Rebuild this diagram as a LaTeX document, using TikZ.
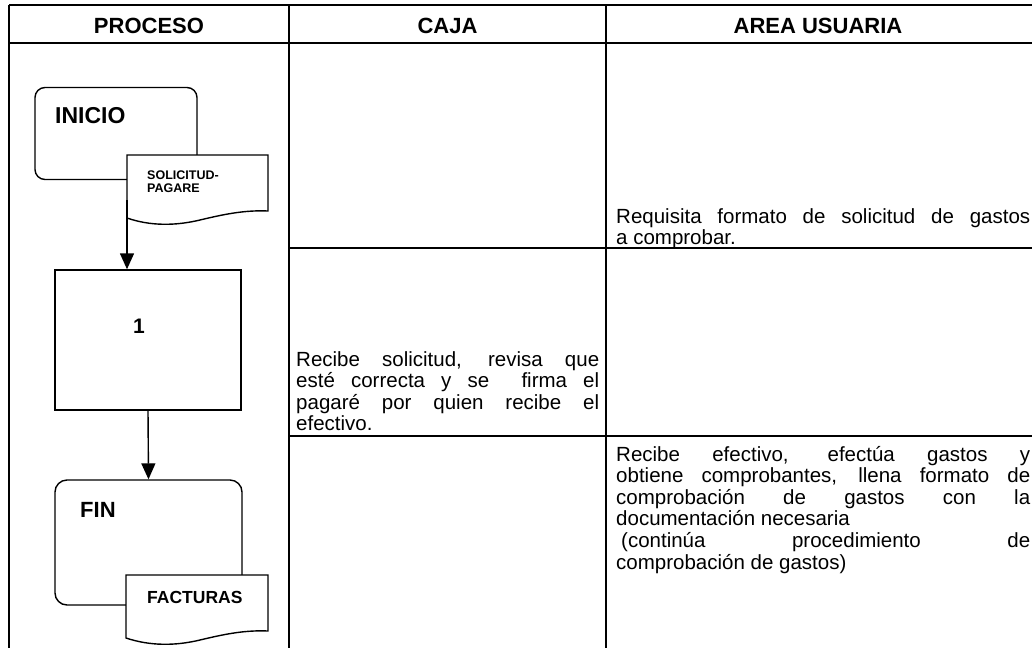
\documentclass[tikz,border=0pt]{standalone}
\usepackage{fontspec}
\setmainfont{Liberation Sans}
\usetikzlibrary{arrows.meta}
\begin{document}
\begin{tikzpicture}[x=1pt,y=-1pt,
  tline/.style={line width=2.2pt},
  shp/.style={draw, line width=1.4pt, fill=white},
  boxshape/.style={draw, line width=1.4pt, fill=white, inner sep=0pt},
  arr/.style={line width=1.4pt, -{Triangle[length=16pt,width=14pt]}},
  hdr/.style={font=\fontsize{22}{26}\selectfont\bfseries, anchor=base, inner sep=0pt},
  lbl/.style={anchor=base west, inner sep=0pt},
  body/.style={font=\fontsize{20.5}{21.6}\selectfont, anchor=base west, inner sep=0pt},
]
\useasboundingbox (0,0) rectangle (1032,648);
% table
\draw[line width=2.6pt] (9,5) -- (1032,5);
\draw[tline] (9,43) -- (1032,43);
\draw[tline] (9,5) -- (9,648);
\draw[tline] (289,5) -- (289,648);
\draw[tline] (606,5) -- (606,648);
\draw[tline] (289,248) -- (1032,248);
\draw[tline] (289,436) -- (1032,436);
% headers
\node[hdr] (hproc) at (149,33) {PROCESO};
\node[hdr] (hcaja) at (447.5,33) {CAJA};
\node[hdr] (harea) at (818,33) {AREA USUARIA};
% flow shapes
\node[boxshape, rounded corners=10pt, minimum width=162pt, minimum height=92pt] (inicio) at (116,133.5) {};
\draw[shp] (127,155) -- (268,155) -- (268,211) .. controls (245,210) and (225,214) .. (200,220) .. controls (175,226) and (150,226) .. (127,218) -- cycle;
\coordinate (d1b) at (127,200);
\node[boxshape, minimum width=186pt, minimum height=140pt] (box1) at (148,340) {};
\node[boxshape, rounded corners=12pt, minimum width=187pt, minimum height=125pt] (fin) at (148.5,542.5) {};
\draw[shp] (126,575) -- (268,575) -- (268,631) .. controls (245,630) and (225,634) .. (200,640) .. controls (175,646) and (150,646) .. (126,638) -- cycle;
% labels
\node[lbl, font=\fontsize{23}{26}\selectfont\bfseries] (tini) at (55,123) {INICIO};
\node[lbl, font=\fontsize{12.5}{12.5}\selectfont\bfseries] (tsol) at (147,179.5) {\parbox[t]{100pt}{SOLICITUD-\\PAGARE}};
\node[font=\fontsize{21}{24}\selectfont\bfseries, anchor=base, inner sep=0pt] (tone) at (139,333) {1};
\node[lbl, font=\fontsize{22}{26}\selectfont\bfseries] (tfin) at (80,517) {FIN};
\node[lbl, font=\fontsize{17.5}{20}\selectfont\bfseries] (tfac) at (147,603) {FACTURAS};
% connectors
\draw[arr] (d1b) -- (d1b |- box1.north);
\draw[arr] (box1.south) -- (fin.north);
% body texts
\node[body] (t1) at (616,223) {\parbox[t]{414pt}{\makebox[414pt][s]{Requisita formato de solicitud de gastos}\\a comprobar.}};
\node[body] (t2) at (296,366) {\parbox[t]{303pt}{\makebox[303pt][s]{Recibe solicitud, revisa que}\\\makebox[303pt][s]{esté correcta y se\ \ firma el}\\\makebox[303pt][s]{pagaré por quien recibe el}\\efectivo.}};
\node[body] (t3) at (616,461) {\parbox[t]{414pt}{\makebox[414pt][s]{Recibe efectivo, efectúa gastos y}\\\makebox[414pt][s]{obtiene comprobantes, llena formato de}\\\makebox[414pt][s]{comprobación de gastos con la}\\documentación necesaria\\\makebox[414pt][s]{\hspace*{5pt}(continúa procedimiento de}\\comprobación de gastos)}};
\end{tikzpicture}
\end{document}
